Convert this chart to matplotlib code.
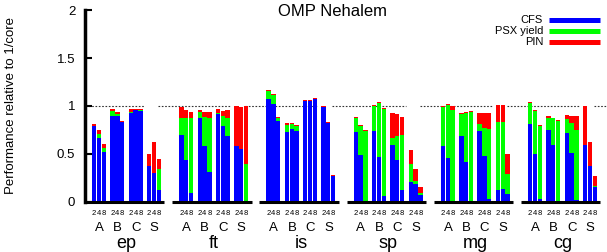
import numpy as np
import matplotlib
matplotlib.use("Agg")
import matplotlib.pyplot as plt
from matplotlib.lines import Line2D

plt.rcParams['font.family'] = ['Liberation Sans', 'DejaVu Sans']

benchmarks = ['ep', 'ft', 'is', 'sp', 'mg', 'cg']
classes = ['A', 'B', 'C', 'S']
threads = ['2', '4', '8']

# per benchmark: 12 bars = classes A,B,C,S x threads 2,4,8
cfs = {
    'ep': [0.79, 0.67, 0.52, 0.90, 0.90, 0.83, 0.93, 0.96, 0.95, 0.38, 0.30, 0.13],
    'ft': [0.70, 0.44, 0.09, 0.88, 0.58, 0.31, 0.92, 0.79, 0.69, 0.58, 0.55, 0.00],
    'is': [1.07, 1.02, 0.84, 0.73, 0.76, 0.74, 1.05, 1.05, 1.07, 0.99, 0.82, 0.27],
    'sp': [0.73, 0.49, 0.00, 0.74, 0.47, 0.06, 0.59, 0.44, 0.13, 0.21, 0.19, 0.07],
    'mg': [0.58, 0.46, 0.00, 0.69, 0.42, 0.00, 0.74, 0.48, 0.03, 0.13, 0.14, 0.08],
    'cg': [0.81, 0.50, 0.03, 0.75, 0.59, 0.00, 0.72, 0.51, 0.02, 0.59, 0.38, 0.16],
}
psx = {
    'ep': [0.00, 0.04, 0.04, 0.05, 0.02, 0.00, 0.01, 0.00, 0.01, 0.00, 0.00, 0.21],
    'ft': [0.18, 0.44, 0.79, 0.06, 0.31, 0.56, 0.01, 0.11, 0.19, 0.00, 0.00, 0.40],
    'is': [0.09, 0.09, 0.04, 0.07, 0.05, 0.05, 0.00, 0.00, 0.00, 0.00, 0.00, 0.00],
    'sp': [0.15, 0.30, 0.74, 0.26, 0.56, 0.91, 0.08, 0.25, 0.57, 0.19, 0.03, 0.02],
    'mg': [0.41, 0.55, 0.96, 0.23, 0.51, 0.94, 0.07, 0.29, 0.73, 0.70, 0.69, 0.21],
    'cg': [0.22, 0.45, 0.76, 0.13, 0.28, 0.84, 0.14, 0.31, 0.73, 0.00, 0.00, 0.01],
}
pin = {
    'ep': [0.02, 0.04, 0.04, 0.02, 0.02, 0.01, 0.03, 0.01, 0.01, 0.12, 0.33, 0.11],
    'ft': [0.11, 0.08, 0.06, 0.02, 0.05, 0.07, 0.04, 0.05, 0.08, 0.42, 0.44, 0.60],
    'is': [0.01, 0.01, 0.01, 0.02, 0.01, 0.01, 0.01, 0.01, 0.01, 0.01, 0.01, 0.01],
    'sp': [0.01, 0.01, 0.01, 0.01, 0.01, 0.01, 0.26, 0.23, 0.19, 0.14, 0.12, 0.07],
    'mg': [0.01, 0.01, 0.04, 0.01, 0.01, 0.01, 0.12, 0.16, 0.17, 0.18, 0.18, 0.21],
    'cg': [0.01, 0.01, 0.01, 0.02, 0.01, 0.01, 0.05, 0.08, 0.15, 0.41, 0.25, 0.10],
}

series = [('CFS', cfs, '#0000ff'), ('PSX yield', psx, '#00ff00'), ('PIN', pin, '#ff0000')]

# layout in pixel units
W, H = 607, 252
X0 = 92.0      # first bar
GROUP = 87.2   # benchmark pitch
SUB = 18.3     # class pitch
PITCH = 4.8    # bar pitch
BW = 4.4

fig = plt.figure(figsize=(W / 100, H / 100), dpi=100)
ax = fig.add_axes([85 / W, (H - 202) / H, (W - 85) / W, 192 / H])
ax.set_xlim(85, W)
ax.set_ylim(0, 2)

gaps = []
for g, b in enumerate(benchmarks):
    gx = X0 + g * GROUP
    xs = np.array([gx + s * SUB + t * PITCH for s in range(4) for t in range(3)])
    bottom = np.zeros(12)
    for name, d, col in series:
        vals = np.array(d[b])
        ax.bar(xs, vals, BW, bottom=bottom, color=col, align='edge',
               linewidth=0, zorder=2)
        bottom += vals
    # group baseline
    ax.plot([gx - 7, gx + 3 * SUB + 3 * PITCH + 3], [0, 0], color='black',
            lw=2.2, solid_capstyle='butt', clip_on=False, zorder=3)
    # thread labels, class labels, benchmark name
    for s, c in enumerate(classes):
        for t, th in enumerate(threads):
            ax.text(gx + s * SUB + t * PITCH + BW / 2, -0.115, th, fontsize=5.5,
                    ha='center', va='center')
        ax.text(gx + s * SUB + 1.5 * PITCH, -0.275, c, fontsize=9.5,
                ha='center', va='center')
    ax.text(gx + 1.5 * SUB + 1.5 * PITCH, -0.43, b, fontsize=13,
            ha='center', va='center')
    s_start = gx + 3 * SUB
    gaps.append((s_start - 3, s_start + 11))

# reference line at 1 (interrupted over the S classes)
start = 85
for a, e in gaps:
    ax.plot([start, a], [1, 1], color='#333333', lw=0.8,
            linestyle=(0, (1.5, 1.5)), zorder=1)
    start = e
ax.plot([start, W], [1, 1], color='#333333', lw=0.8,
        linestyle=(0, (1.5, 1.5)), zorder=1)

for sp in ['top', 'right', 'bottom']:
    ax.spines[sp].set_visible(False)
ax.spines['left'].set_linewidth(2.5)
ax.set_xticks([])
ax.set_yticks([0, 0.5, 1, 1.5, 2], ['0', '0.5', '1', '1.5', '2'])
ax.tick_params(axis='y', direction='in', length=5, width=1.5, labelsize=9.5, pad=7)
ax.set_ylabel('Performance relative to 1/core', fontsize=9.5)
ax.yaxis.set_label_coords((17 - 85) / (W - 85), 0.5)

fig.text(333 / W, 1 - 12 / H, 'OMP Nehalem', fontsize=12, ha='center', va='center')

# legend
for i, (name, d, col) in enumerate(series):
    y = 1 - (20 + 11 * i) / H
    fig.text(543 / W, y, name, fontsize=8, ha='right', va='center')
    fig.add_artist(Line2D([549 / W, 600 / W], [y, y], color=col, lw=3.6,
                          transform=fig.transFigure, solid_capstyle='butt'))

fig.savefig('out.png', dpi=100)
